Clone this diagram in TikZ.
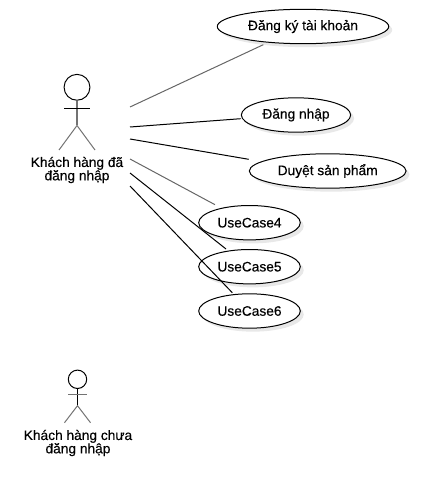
\documentclass[tikz,border=0pt]{standalone}
\usepackage{fontspec}
\setmainfont{Liberation Sans}[FakeBold=0.25]
\usetikzlibrary{shapes.geometric,shadows}
\tikzset{
  px/.style={x=0.75pt,y=-0.75pt},
  usecase/.style={ellipse,draw=black,fill=white,line width=0.75pt,inner sep=0pt,
    minimum height=25.8pt,font=\fontsize{10.3pt}{12pt}\selectfont,
    drop shadow={opacity=.18,shadow xshift=2.6pt,shadow yshift=-2.6pt}},
  assocdark/.style={draw=black,line width=0.75pt},
  assocgrey/.style={draw=black!60,line width=0.75pt},
  figure/.style={draw=black,line width=0.75pt},
  figuregrey/.style={draw=black!55,line width=0.75pt},
  actorlabel/.style={align=center,inner sep=0pt,font=\fontsize{10.3pt}{10pt}\selectfont},
}
\begin{document}
\begin{tikzpicture}[px]
\useasboundingbox (0,0) rectangle (445,502);

% use cases
\node[usecase,minimum width=128.6pt] (dangky) at (303,26.5) {Đăng ký tài khoản};
\node[usecase,minimum width=82pt] (dangnhap) at (296,115) {Đăng nhập};
\node[usecase,minimum width=117.6pt] (duyet) at (327.7,171) {Duyệt sản phẩm};
\node[usecase,minimum width=76.2pt] (uc4) at (249.5,222.7) {UseCase4};
\node[usecase,minimum width=76.2pt] (uc5) at (249.5,266.7) {UseCase5};
\node[usecase,minimum width=76.2pt] (uc6) at (249.5,311) {UseCase6};

% actor: logged-in customer
\node[circle,figure,minimum size=19.4pt,inner sep=0pt] (headA) at (77,87.3) {};
\coordinate (hipA) at (77,125.5);
\coordinate (armAl) at (64,109);
\coordinate (armAr) at (90,109);
\coordinate (legAl) at (59,150);
\coordinate (legAr) at (95,150);
\draw[figuregrey,line width=1pt] (headA.south) -- (hipA);
\draw[figure] (armAl) -- (armAr);
\draw[figuregrey] (legAl) -- (hipA) -- (legAr);
\node[actorlabel] (labelA) at (77,170) {Khách hàng đã\\đăng nhập};

% actor: guest customer
\node[circle,figure,minimum size=13.8pt,inner sep=0pt] (headB) at (77.5,379.3) {};
\coordinate (hipB) at (77.5,405.7);
\coordinate (armBl) at (68.3,394.5);
\coordinate (armBr) at (87,394.5);
\coordinate (legBl) at (64.5,422.7);
\coordinate (legBr) at (90.5,422.7);
\draw[figure] (headB.south) -- (hipB);
\draw[figuregrey] (armBl) -- (armBr);
\draw[figuregrey] (legBl) -- (hipB) -- (legBr);
\node[actorlabel] (labelB) at (78,443) {Khách hàng chưa\\đăng nhập};

% connector ends
\coordinate (a1) at (130,107);
\coordinate (a2) at (130,127);
\coordinate (a3) at (130,139);
\coordinate (a4) at (130,159);
\coordinate (a5) at (130,173);
\coordinate (a6) at (130,186);
\coordinate (e1) at (263.3,44.7);
\coordinate (e2) at (240.7,118.7);
\coordinate (e3) at (248.7,159.3);
\coordinate (e4) at (215,204.7);
\coordinate (e5) at (226,249);
\coordinate (e6) at (232.3,292.7);

\draw[assocgrey] (a1) -- (e1);
\draw[assocdark] (a2) -- (e2);
\draw[assocdark] (a3) -- (e3);
\draw[assocgrey] (a4) -- (e4);
\draw[assocdark] (a5) -- (e5);
\draw[assocdark] (a6) -- (e6);
\end{tikzpicture}
\end{document}
